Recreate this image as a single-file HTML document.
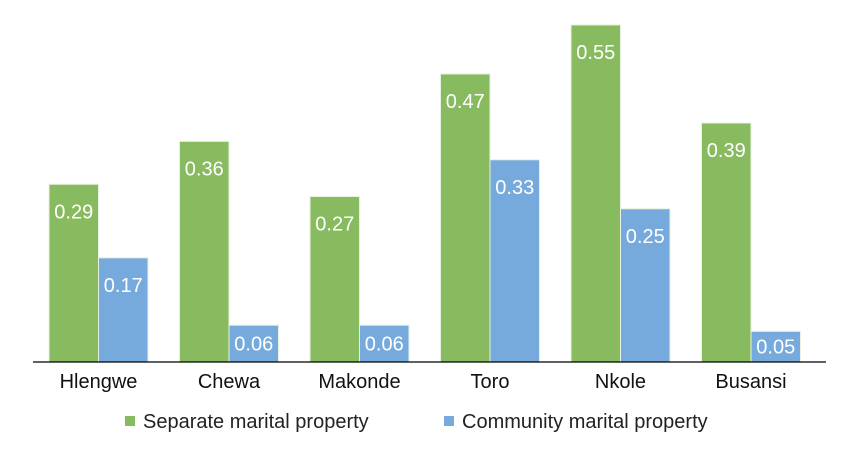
<!DOCTYPE html>
<html><head><meta charset="utf-8"><style>
html,body{margin:0;padding:0;background:#fff;}
svg{display:block;font-family:"Liberation Sans",Arial,sans-serif;}
</style></head><body>
<svg id="chart" width="842" height="458">
<g id="bars"></g>
<line x1="33" y1="362" x2="826" y2="362" stroke="#000" stroke-width="1.3"/>
<g id="xlabels"></g>
<g>
<g>
<rect x="125" y="416" width="10" height="10" fill="#88bb5f"/>
<text x="143" y="428" font-size="20" fill="#222">Separate marital property</text></g>
<g>
<rect x="444" y="416" width="10" height="10" fill="#77aadc"/>
<text x="462" y="428" font-size="20" fill="#222">Community marital property</text></g>
</g>
</svg>
<script>
const categories = ["Hlengwe","Chewa","Makonde","Toro","Nkole","Busansi"];
const separateValues = [0.29,0.36,0.27,0.47,0.55,0.39];
const communityValues = [0.17,0.06,0.06,0.33,0.25,0.05];
const baseY = 362, scale = 612.8, x0 = 33, groupW = 130.5, barW = 49.5, padL = 16;
const yPos = v => baseY - v*scale;
const ns = "http://www.w3.org/2000/svg";
const bars = document.getElementById('bars');
const xl = document.getElementById('xlabels');
function bar(i, v, off, color, nm){
  const x = x0 + i*groupW + padL + off;
  const r = document.createElementNS(ns,'rect');
  r.setAttribute('x', x); r.setAttribute('y', yPos(v));
  r.setAttribute('width', barW); r.setAttribute('height', v*scale);
  r.setAttribute('fill', color); r.setAttribute('stroke', '#e8f0e0'); r.setAttribute('stroke-width','1');
  
  
  bars.appendChild(r);
  const h = v*scale;
  const cy = yPos(v) + Math.min(27, h/2);
  const t = document.createElementNS(ns,'text');
  t.setAttribute('x', x + barW/2); t.setAttribute('y', cy + 7);
  t.setAttribute('text-anchor','middle'); t.setAttribute('font-size','20'); t.setAttribute('fill','#fff');
  t.textContent = v.toFixed(2);
  
  
  bars.appendChild(t);
}
categories.forEach((c,i)=>{
  bar(i, separateValues[i], 0, '#88bb5f', 'separate-' + c.toLowerCase());
  bar(i, communityValues[i], barW, '#77aadc', 'community-' + c.toLowerCase());
  const t = document.createElementNS(ns,'text');
  t.setAttribute('x', x0 + i*groupW + padL + barW); t.setAttribute('y', 388);
  t.setAttribute('text-anchor','middle'); t.setAttribute('font-size','20'); t.setAttribute('fill','#111');
  t.textContent = c;
  
  
  xl.appendChild(t);
});
</script>
</body></html>
